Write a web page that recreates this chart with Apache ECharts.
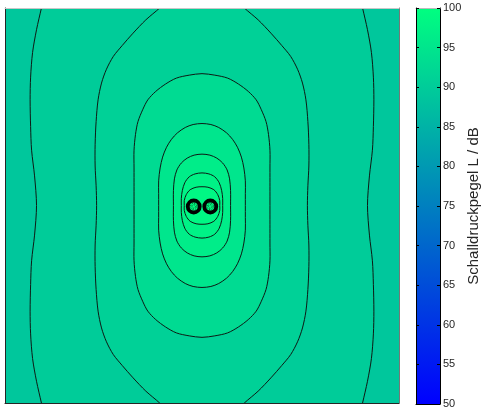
<!DOCTYPE html>
<html>
<head>
<meta charset="utf-8">
<script src="https://cdn.jsdelivr.net/npm/echarts@6/dist/echarts.min.js"></script>
<style>
html,body{margin:0;padding:0;background:#fff;}
#chart{width:482px;height:414px;}
</style>
</head>
<body>
<div id="chart"></div>
<script>
// ---- data ----
const xRange = [-2, 2];
const yRange = [-2, 2];
const colorbarRange = [50, 100];
const colorbarStep = 5;
const colormap = ['#0000ff', '#00ff80']; // "winter"
const axisTitle = 'Schalldruckpegel L / dB';

// level (dB) of each band: background, then inside contour 1..7
const bandLevels = [89, 90, 91, 93, 95, 96.5, 97.5, 98.5];

// contour quadrants: [halfWidth, heightAboveCentre], from top to middle
const contour1 = [[0,2.9],[0.8,2.85],[1.25,2.7],[1.45,2.5],[1.56,2.3],[1.63,2.00],[1.68,1.78],[1.72,1.55],[1.74,1.30],[1.745,1.07],[1.74,0.80],[1.73,0.56],[1.70,0.30],[1.68,0]];
const contour2 = [[0,2.32],[0.14,2.28],[0.27,2.16],[0.43,2.00],[0.57,1.88],[0.70,1.745],[0.81,1.62],[0.90,1.51],[0.97,1.38],[1.02,1.24],[1.055,1.07],[1.075,0.85],[1.085,0.62],[1.085,0.40],[1.075,0.20],[1.07,0]];
const contour3 = [[0,1.335],[0.13,1.32],[0.26,1.29],[0.37,1.23],[0.47,1.155],[0.55,1.07],[0.60,0.975],[0.65,0.85],[0.675,0.72],[0.69,0.56],[0.69,0.38],[0.69,0.19],[0.69,0]];
const contour4 = [[0,0.83],[0.09,0.82],[0.17,0.79],[0.25,0.735],[0.31,0.67],[0.36,0.59],[0.40,0.49],[0.425,0.38],[0.44,0.25],[0.44,0.12],[0.44,0]];
const contour5 = [[0,0.52],[0.08,0.51],[0.15,0.48],[0.21,0.43],[0.255,0.36],[0.28,0.27],[0.29,0.15],[0.29,0]];
const contour6 = [[0,0.33],[0.07,0.32],[0.13,0.29],[0.175,0.23],[0.20,0.15],[0.21,0.07],[0.21,0]];
const contour7 = [[0,0.19],[0.06,0.185],[0.12,0.16],[0.16,0.11],[0.18,0.05],[0.18,0]];
const contours = [contour1, contour2, contour3, contour4, contour5, contour6, contour7];

// the two sources
const sourceX = [-0.084, 0.084];
const sourceY = [-0.01, -0.01];
const sourceLevel = 99.5;
const ringRadii = [0.071, 0.060, 0.050];
const innerRadii = [0.032, 0.018];

// ---- chart ----
function mirror(q) {
  const n = q.length, pts = [];
  for (let k = 0; k < n; k++) pts.push([q[k][0], q[k][1]]);
  for (let k = n - 2; k >= 0; k--) pts.push([q[k][0], -q[k][1]]);
  for (let k = 1; k < n; k++) pts.push([-q[k][0], -q[k][1]]);
  for (let k = n - 2; k >= 1; k--) pts.push([-q[k][0], q[k][1]]);
  return pts;
}

const FONT = 'Liberation Sans, Arial, sans-serif';
const chart = echarts.init(document.getElementById('chart'), null, {renderer: 'canvas'});

const hiddenAxis = (extra) => Object.assign({
  type: 'value', splitLine: {show: false}, axisTick: {show: false}, axisLabel: {show: false}
}, extra);

chart.setOption({
  animation: false,
  backgroundColor: '#ffffff',
  textStyle: {fontFamily: FONT},
  grid: [
    {left: 5, top: 8, width: 394, height: 395},
    {left: 416, top: 8, width: 24, height: 396}
  ],
  xAxis: [
    hiddenAxis({gridIndex: 0, min: xRange[0], max: xRange[1], position: 'bottom', z: 5, axisLine: {show: true, onZero: false, lineStyle: {color: '#262626', width: 1}}}),
    hiddenAxis({gridIndex: 0, min: xRange[0], max: xRange[1], position: 'top', z: 5, axisLine: {show: true, onZero: false, lineStyle: {color: '#c8c8c8', width: 1}}}),
    hiddenAxis({gridIndex: 1, min: 0, max: 1, position: 'bottom', z: 5, axisLine: {show: true, onZero: false, lineStyle: {color: '#000', width: 1}}}),
    hiddenAxis({gridIndex: 1, min: 0, max: 1, position: 'top', z: 5, axisLine: {show: true, onZero: false, lineStyle: {color: '#bbb', width: 1}}})
  ],
  yAxis: [
    hiddenAxis({gridIndex: 0, min: yRange[0], max: yRange[1], position: 'left', z: 5, axisLine: {show: true, onZero: false, lineStyle: {color: '#262626', width: 1}}}),
    hiddenAxis({gridIndex: 0, min: yRange[0], max: yRange[1], position: 'right', z: 5, axisLine: {show: true, onZero: false, lineStyle: {color: '#777', width: 1}}}),
    {
      type: 'value', gridIndex: 1, position: 'right', z: 5,
      min: colorbarRange[0], max: colorbarRange[1], interval: colorbarStep,
      splitLine: {show: false},
      axisLine: {show: true, onZero: false, lineStyle: {color: '#000', width: 1}},
      axisTick: {show: true, inside: true, length: 3, lineStyle: {color: '#000'}},
      axisLabel: {show: true, margin: 3, fontSize: 11, color: '#262626', fontFamily: FONT},
      name: axisTitle, nameLocation: 'middle', nameRotate: 90, nameGap: 26,
      nameTextStyle: {fontSize: 15, color: '#262626', fontFamily: FONT}
    },
    {
      type: 'value', gridIndex: 1, position: 'left', z: 5,
      min: colorbarRange[0], max: colorbarRange[1], interval: colorbarStep,
      splitLine: {show: false},
      axisLine: {show: true, onZero: false, lineStyle: {color: '#000', width: 1}},
      axisTick: {show: true, inside: true, length: 3, lineStyle: {color: '#000'}},
      axisLabel: {show: false}
    }
  ],
  visualMap: {
    show: false, type: 'continuous', min: colorbarRange[0], max: colorbarRange[1],
    dimension: 2, seriesIndex: [0, 1], inRange: {color: colormap}
  },
  series: [
    {
      type: 'custom', xAxisIndex: 0, yAxisIndex: 0, clip: true, silent: true,
      data: bandLevels.map((lv, i) => [i, 0, lv]),
      renderItem: function (params, api) {
        const i = api.value(0);
        const fill = api.visual('color');
        if (i === 0) {
          const p0 = api.coord([xRange[0], yRange[1]]);
          const p1 = api.coord([xRange[1], yRange[0]]);
          return {type: 'rect', shape: {x: p0[0], y: p0[1], width: p1[0] - p0[0], height: p1[1] - p0[1]}, style: {fill: fill}};
        }
        const pts = mirror(contours[i - 1]).map(p => api.coord(p));
        return {type: 'polygon', shape: {points: pts, smooth: 0.3}, style: {fill: fill, stroke: '#0d1a14', lineWidth: 1}};
      }
    },
    {
      type: 'custom', xAxisIndex: 0, yAxisIndex: 0, clip: true, silent: true,
      data: sourceX.map((x, i) => [x, sourceY[i], sourceLevel]),
      renderItem: function (params, api) {
        const c = api.coord([api.value(0), api.value(1)]);
        const fill = api.visual('color');
        const px = r => api.size([r, 0])[0];
        const children = [{type: 'circle', shape: {cx: c[0], cy: c[1], r: px(ringRadii[0])}, style: {fill: fill}}];
        ringRadii.forEach(r => children.push({type: 'circle', shape: {cx: c[0], cy: c[1], r: px(r)}, style: {fill: null, stroke: '#000', lineWidth: 1.8}}));
        innerRadii.forEach(r => children.push({type: 'circle', shape: {cx: c[0], cy: c[1], r: px(r)}, style: {fill: null, stroke: '#0a3a20', lineWidth: 1, lineDash: [1, 1.5]}}));
        return {type: 'group', children: children};
      }
    },
    {
      type: 'custom', xAxisIndex: 2, yAxisIndex: 2, silent: true,
      data: [[0, colorbarRange[0], colorbarRange[1]]],
      renderItem: function (params, api) {
        const p0 = api.coord([0, api.value(2)]);
        const p1 = api.coord([1, api.value(1)]);
        return {
          type: 'rect',
          shape: {x: p0[0], y: p0[1], width: p1[0] - p0[0], height: p1[1] - p0[1]},
          style: {fill: new echarts.graphic.LinearGradient(0, 0, 0, 1, [
            {offset: 0, color: colormap[1]}, {offset: 1, color: colormap[0]}
          ])}
        };
      }
    }
  ]
});
</script>
</body>
</html>
